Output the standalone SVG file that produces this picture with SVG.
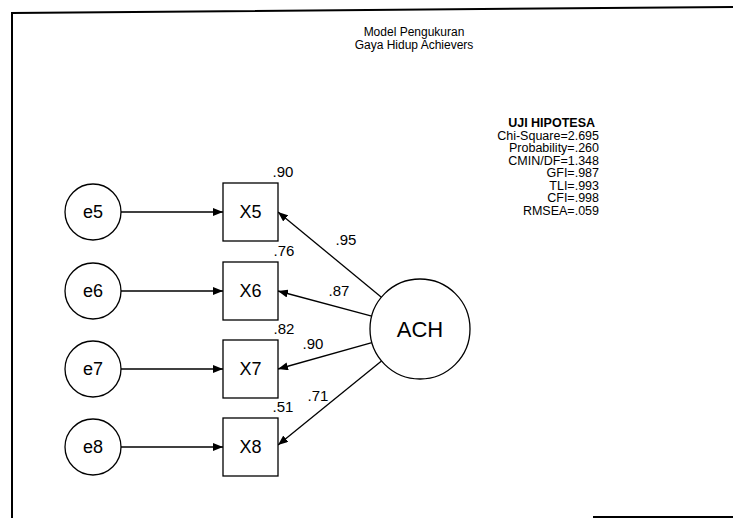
<svg xmlns="http://www.w3.org/2000/svg" width="733" height="518" viewBox="0 0 733 518">
<style>
text{font-family:"Liberation Sans",Arial,sans-serif;fill:#000}
.frame{stroke:#000;stroke-width:2;fill:none}
.node{fill:#fff;stroke:#000;stroke-width:1.3}
.lbl{font-size:18px;text-anchor:middle}
.num{font-size:15px;text-anchor:middle}
.conn{stroke:#000;stroke-width:1.3;fill:none;marker-end:url(#ah)}
.stat{font-size:12.5px;text-anchor:end}
.title{font-size:12px;text-anchor:middle}
</style>
<defs>
<marker id="ah" viewBox="0 0 10 8" refX="10" refY="4" markerWidth="10" markerHeight="8" markerUnits="userSpaceOnUse" orient="auto">
<path d="M0,0 L10,4 L0,8 Z" fill="#000"/>
</marker>
</defs>
<rect width="733" height="518" fill="#fff"/>
<g id="frame">
<path class="frame" d="M12,518 L12,13 L733,7"/>
<path class="frame" d="M593,517 L733,517"/>
</g>
<g id="title">
<text class="title" x="414" y="36">Model Pengukuran</text>
<text class="title" x="414" y="49">Gaya Hidup Achievers</text>
</g>
<g id="stats">
<text class="stat" x="595" y="127" font-weight="bold">UJI HIPOTESA</text>
<text class="stat" x="599" y="139.5">Chi-Square=2.695</text>
<text class="stat" x="599" y="152">Probability=.260</text>
<text class="stat" x="599" y="164.5">CMIN/DF=1.348</text>
<text class="stat" x="599" y="177">GFI=.987</text>
<text class="stat" x="599" y="189.5">TLI=.993</text>
<text class="stat" x="599" y="202">CFI=.998</text>
<text class="stat" x="599" y="214.5">RMSEA=.059</text>
</g>
<g id="connectors">
<line class="conn" x1="121" y1="212" x2="223" y2="212"/>
<line class="conn" x1="121" y1="291" x2="223" y2="291"/>
<line class="conn" x1="121" y1="369" x2="223" y2="369"/>
<line class="conn" x1="121" y1="447" x2="223" y2="447"/>
<line class="conn" x1="381.4" y1="297.2" x2="278" y2="212"/>
<line class="conn" x1="371.7" y1="316.1" x2="278" y2="291"/>
<line class="conn" x1="371.9" y1="342.6" x2="278" y2="369"/>
<line class="conn" x1="381.5" y1="361" x2="278" y2="445"/>
<text class="num" x="346" y="245">.95</text>
<text class="num" x="339" y="296">.87</text>
<text class="num" x="313" y="349">.90</text>
<text class="num" x="318" y="401">.71</text>
</g>
<g id="e5"><circle class="node" cx="93" cy="212" r="28"/><text class="lbl" x="93" y="218">e5</text></g>
<g id="e6"><circle class="node" cx="93" cy="291" r="28"/><text class="lbl" x="93" y="297">e6</text></g>
<g id="e7"><circle class="node" cx="93" cy="369" r="28"/><text class="lbl" x="93" y="375">e7</text></g>
<g id="e8"><circle class="node" cx="93" cy="447" r="28"/><text class="lbl" x="93" y="453">e8</text></g>
<g id="X5"><rect class="node" x="223" y="183" width="55" height="58"/><text class="lbl" x="250.5" y="218">X5</text><text class="num" x="283" y="177">.90</text></g>
<g id="X6"><rect class="node" x="223" y="262" width="55" height="58"/><text class="lbl" x="250.5" y="297">X6</text><text class="num" x="284" y="256">.76</text></g>
<g id="X7"><rect class="node" x="223" y="340" width="55" height="58"/><text class="lbl" x="250.5" y="375">X7</text><text class="num" x="284" y="334">.82</text></g>
<g id="X8"><rect class="node" x="223" y="418" width="55" height="58"/><text class="lbl" x="250.5" y="453">X8</text><text class="num" x="283" y="412">.51</text></g>
<g id="ACH"><circle class="node" cx="420" cy="329" r="50"/><text class="lbl" x="420" y="337" style="font-size:22px">ACH</text></g>
</svg>
